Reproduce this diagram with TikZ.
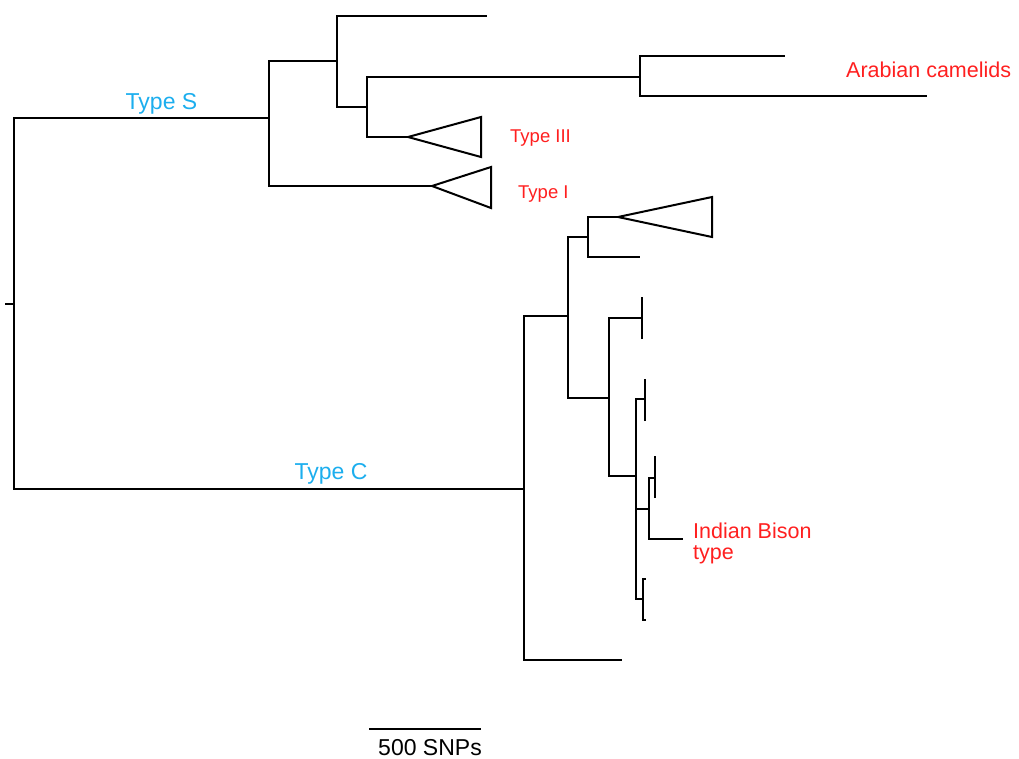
\documentclass[tikz,border=0pt]{standalone}
\usepackage{fontspec}
\setmainfont{Liberation Sans}
\definecolor{clade}{HTML}{FF1F1F}
\definecolor{lineage}{HTML}{1CAEEE}

\begin{document}
\begin{tikzpicture}[x=1pt,y=-1pt,
  branch/.style={draw=black,line width=2pt},
  tag/.style={text=#1,inner sep=0pt},
  big/.style={font=\fontsize{21.5}{21}\selectfont},
  small/.style={font=\fontsize{18.5}{18}\selectfont}
]
\useasboundingbox (0,0) rectangle (1019,758);
% internal nodes
\coordinate (r) at (14,304);
\coordinate (s) at (269,118);
\coordinate (c) at (524,489);
\coordinate (s1) at (337,61);
\coordinate (s2) at (367,107);
\coordinate (cam) at (640,77);
\coordinate (t3) at (408,137);
\coordinate (t1) at (432,186);
\coordinate (c1) at (568,316);
\coordinate (c2) at (588,237);
\coordinate (t4) at (618,217);
\coordinate (c3) at (609,398);
\coordinate (c4) at (642,318);
\coordinate (c5) at (636,476);
\coordinate (c6) at (645,399);
\coordinate (c7) at (649,509);
\coordinate (c8) at (643,599);
\coordinate (c10) at (655,478);
% leaves
\coordinate (l0) at (5,304);
\coordinate (l1) at (487,16);
\coordinate (l2) at (785,56);
\coordinate (l3) at (927,96);
\coordinate (l4) at (640,257);
\coordinate (l5) at (622,660);
\coordinate (l6) at (683,539);
\coordinate (l7) at (646,579);
\coordinate (l8) at (646,620);
\draw[branch] (l0) -- (r);
\foreach \parent/\child in {r/s,r/c,s/s1,s/t1,s1/l1,s1/s2,s2/cam,s2/t3,cam/l2,cam/l3,
  c/c1,c/l5,c1/c2,c1/c3,c2/t4,c2/l4,c3/c4,c3/c5,c5/c6,c5/c7,c5/c8,c7/c10,c7/l6,c8/l7,c8/l8}
  \draw[branch] (\parent) |- (\child);
\foreach \bar/\up/\down in {c4/21/21,c6/22/20,c10/20/22}
  \draw[branch] ([yshift=-\up pt]\bar) -- ([yshift=\down pt]\bar);
\draw[branch] (t3) -- ++(73,-20) -- ++(0,40) -- cycle;
\draw[branch] (t1) -- ++(59,-19) -- ++(0,41) -- cycle;
\draw[branch] (t4) -- ++(94,-20) -- ++(0,40) -- cycle;
\node[tag=clade,big,anchor=base west] (arab) at (846,77) {Arabian camelids};
\node[tag=clade,small,anchor=base west] (typeIII) at (510,142) {Type III};
\node[tag=clade,small,anchor=base west] (typeI) at (518,198) {Type I};
\node[tag=clade,big,anchor=north west,align=left] (bison) at (693,523) {Indian Bison\\type};
\node[tag=lineage,font=\fontsize{23}{23}\selectfont,anchor=base] (typeS) at (161.5,109) {Type S};
\node[tag=lineage,font=\fontsize{23}{23}\selectfont,anchor=base] (typeC) at (331,479) {Type C};
\coordinate (sb1) at (369,729);
\coordinate (sb2) at (481,729);
\draw[branch] (sb1) -- (sb2);
\node[tag=black,font=\fontsize{23}{23}\selectfont,anchor=base] (snp) at (430,755) {500 SNPs};
\end{tikzpicture}
\end{document}
